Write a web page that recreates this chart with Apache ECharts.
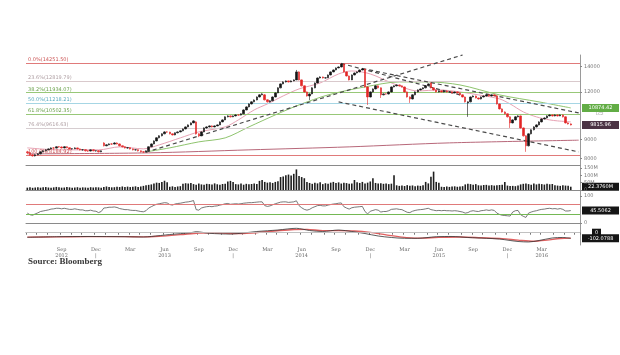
<!DOCTYPE html>
<html><head><meta charset="utf-8">
<script src="https://cdn.jsdelivr.net/npm/echarts@6/dist/echarts.min.js"></script>
<style>html,body{margin:0;padding:0;background:#fff}#c{width:620px;height:355px}</style>
</head><body><div id="c"></div>
<script>
// weekly categories, Jun 2012 - May 2016 (plus 3 empty weeks of right padding)
const startDateUTC = Date.UTC(2012, 5, 1);
const weekCount = 210;

// weekly candles [open, close, low, high]
const ohlc = [
[8338,8288,8240,8390],[8290,8190,8150,8310],[8190,8140,8100,8220],[8140,8190,8110,8220],[8190,8240,8170,8270],
[8240,8340,8220,8360],[8340,8390,8310,8420],[8390,8440,8370,8470],[8440,8490,8420,8520],[8490,8540,8470,8570],
[8540,8530,8490,8580],[8530,8600,8510,8620],[8600,8590,8550,8640],[8590,8540,8510,8620],[8540,8600,8520,8630],
[8600,8550,8520,8620],[8550,8490,8460,8570],[8490,8500,8450,8530],[8500,8540,8480,8570],[8540,8490,8460,8560],
[8490,8440,8410,8510],[8440,8450,8400,8480],[8450,8390,8360,8470],[8390,8380,8340,8420],[8380,8440,8360,8460],
[8440,8390,8370,8460],[8390,8400,8350,8420],[8400,8340,8310,8420],[8340,8390,8320,8410],[8800,8650,8620,8840],
[8650,8700,8630,8730],[8700,8750,8680,8780],[8750,8740,8700,8790],[8740,8800,8720,8840],[8800,8750,8720,8830],
[8750,8650,8620,8770],[8650,8600,8570,8670],[8600,8540,8510,8620],[8540,8550,8500,8580],[8550,8490,8460,8570],
[8490,8440,8410,8510],[8440,8450,8400,8480],[8450,8390,8360,8470],[8390,8340,8310,8410],[8340,8330,8290,8370],
[8330,8390,8310,8410],[8390,8600,8380,8620],[8600,8750,8580,8780],[8750,8910,8730,8940],[8910,9080,8890,9110],
[9080,9190,9050,9220],[9190,9300,9160,9330],[9300,9410,9280,9450],[9410,9400,9360,9450],[9400,9300,9270,9420],
[9300,9240,9210,9320],[9240,9360,9220,9380],[9360,9410,9330,9440],[9410,9470,9390,9500],[9470,9580,9450,9610],
[9580,9700,9560,9730],[9700,9820,9680,9850],[9820,9940,9800,9970],[9940,10060,9920,10100],[10000,9300,9260,10040],
[9300,9190,9120,9330],[9190,9410,9170,9440],[9410,9640,9390,9670],[9640,9700,9600,9740],[9700,9760,9670,9790],
[9760,9700,9670,9790],[9700,9760,9680,9790],[9760,9820,9740,9850],[9820,10000,9800,10030],[10000,10120,9980,10160],
[10120,10310,10100,10340],[10310,10370,10280,10410],[10370,10310,10270,10400],[10310,10370,10290,10400],[10370,10430,10340,10470],
[10430,10420,10380,10470],[10420,10500,10400,10530],[10500,10750,10480,10790],[10750,10950,10730,10990],[10950,11150,10920,11190],
[11150,11290,11120,11330],[11290,11420,11260,11460],[11420,11630,11400,11670],[11630,11780,11600,11820],[11780,11850,11750,11900],
[11780,11430,11390,11830],[11430,11290,11240,11460],[11290,11360,11250,11400],[11360,11630,11340,11670],[11630,11920,11610,11960],
[11920,12290,11900,12330],[12290,12590,12260,12630],[12590,12740,12560,12790],[12740,12820,12700,12860],[12820,12740,12700,12850],
[12740,12820,12720,12860],[12820,12900,12790,12940],[12900,13540,12880,13700],[13540,12900,12860,13580],[12900,12440,12400,12930],
[12440,11990,11950,12470],[11990,11700,11660,12020],[11700,11850,11420,11890],[11850,12290,11820,12330],[12290,12660,12260,12700],
[12660,13050,12640,13090],[13050,13130,13010,13180],[13130,13050,13010,13160],[13050,13060,13000,13100],[13060,13290,13040,13330],
[13290,13540,13260,13580],[13540,13700,13510,13740],[13700,13870,13670,13910],[13870,13950,13840,14000],[13950,14200,13920,14251],
[14200,13540,13500,14230],[13540,13210,13170,13570],[13210,12900,12860,13240],[12900,13290,12880,13330],[13290,13450,13260,13490],
[13450,13540,13420,13580],[13540,13700,13510,13740],[13700,13780,13670,13870],[13780,12360,12320,13810],[12360,11630,11080,12400],
[11630,11990,11600,12030],[11990,12210,11960,12250],[12210,12440,12180,12480],[12440,12290,12250,12470],[12290,11780,11560,12320],
[11780,11850,11750,11890],[11850,11840,11800,11890],[11840,11990,11810,12030],[11990,12360,11960,12400],[12360,12440,12330,12480],
[12440,12510,12410,12550],[12510,12440,12400,12540],[12440,12360,12320,12470],[12360,11990,11950,12390],[11990,11630,11590,12020],
[11630,11490,11220,11670],[11490,11780,11460,11820],[11780,11990,11750,12030],[11990,12140,11960,12180],[12140,12210,12110,12250],
[12210,12290,12180,12330],[12290,12440,12260,12480],[12440,12590,12410,12630],[12660,12290,12250,12700],[12290,12140,12100,12320],
[12140,11990,11950,12170],[11990,12070,11960,12100],[12070,11990,11960,12100],[11990,12060,11960,12090],[12060,11990,11950,12090],
[11990,12000,11950,12040],[12000,11920,11880,12030],[11920,11990,11890,12020],[11990,11920,11890,12020],[11920,11780,11740,11950],
[11780,11630,11600,11810],[11630,11290,11250,11660],[11220,11290,10310,11320],[11290,11630,11260,11670],[11630,11700,11600,11740],
[11700,11560,11530,11730],[11560,11490,11450,11590],[11490,11630,11460,11670],[11630,11700,11600,11740],[11700,11780,11670,11820],
[11780,11700,11670,11810],[11700,11780,11670,11810],[11780,11710,11680,11810],[11710,11150,11110,11740],[11150,10820,10780,11180],
[10820,10620,10580,10850],[10620,10500,10460,10660],[10500,10310,10270,10530],[10310,9940,9640,10340],[9940,10120,9910,10160],
[10120,10310,10090,10350],[10310,10370,10280,10410],[10370,9640,9600,10400],[9640,9190,9150,9670],[9190,8650,8340,9220],
[8650,9300,8620,9330],[9300,9530,9270,9560],[9530,9700,9500,9740],[9700,9820,9670,9860],[9820,10000,9790,10040],
[10000,10180,9970,10220],[10180,10240,10150,10280],[10240,10370,10210,10410],[10370,10430,10340,10470],[10430,10370,10330,10460],
[10370,10430,10340,10470],[10430,10370,10330,10460],[10370,10430,10350,10460],[10430,10310,10270,10460],[10310,9940,9900,10340],
[9940,9880,9840,9970],[9880,9815.96,9790,9910]
];

// weekly volume, millions
const volume = [
16,18,15,17,19,16,18,20,17,15,18,21,19,16,17,20,18,15,17,19,16,18,17,15,19,
17,19,18,16,21,24,20,18,19,
22,20,24,21,23,20,22,25,21,24,
28,32,35,38,
45,50,48,55,63,52,
22,25,20,24,26,
42,46,44,48,
40,36,44,38,35,42,40,37,45,39,36,41,43,
58,62,55,
40,38,44,36,42,39,41,45,40,
62,68,55,
50,53,48,55,60,
88,92,100,105,98,
110,140,
95,88,80,
55,48,42,50,45,52,40,46,43,50,55,48,52,44,50,47,42,45,
68,
52,48,55,45,50,58,
80,
48,44,46,42,45,40,43,
100,
32,28,30,27,33,29,31,26,30,28,32,
55,45,90,125,
55,50,
22,20,24,21,23,25,22,24,26,
38,42,40,36,40,
32,30,34,35,31,33,30,32,34,36,
55,
30,27,28,26,30,
38,42,45,40,36,44,38,42,40,37,43,39,41,
32,30,28,33,30,29,22.376
];

// weekly RSI
const rsi = [
36,30,28,33,37,42,44,46,48,51,52,54,54,52,54,52,50,50,52,50,
48,48,45,45,47,44,43,38,42,55,56,58,58,59,57,53,51,49,49,47,
46,46,44,42,41,45,55,60,65,69,71,73,75,74,68,66,70,72,73,75,
77,78,80,83,49,47,55,58,60,61,60,62,63,66,68,71,72,69,70,71,
70,71,73,74,75,75,76,77,78,78,64,61,63,67,71,74,77,78,78,76,
77,78,82,64,56,50,47,50,56,60,64,65,63,63,66,68,70,71,73,74,
60,55,51,56,58,59,60,61,42,33,43,46,49,47,40,42,42,45,50,51,
52,50,49,44,39,38,43,46,48,49,50,52,54,49,47,45,46,45,46,45,
45,44,45,44,42,40,36,38,43,45,43,42,45,46,48,46,48,46,36,31,
28,27,26,25,40,45,46,30,24,20,36,40,43,45,48,50,51,53,54,52,
53,51,53,50,44,44,45.5062
];

// moving averages read at sparse weeks [weekIndex, value]
const maShortPts = [[0,8543],[12,8440],[27,8440],[35,8595],[44,8491],[50,8699],[58,9076],[65,9411],[75,9701],[80,10121],[86,10753],[91,11151],[97,11705],[103,12212],[111,12664],[118,13373],[123,13618],[130,13373],[139,12587],[148,12065],[156,12138],[164,11992],[171,11776],[179,11494],[183,11151],[188,10624],[193,10307],[198,10121],[201,10060],[206,9999]];
const maLongPts = [[45,8338],[54,8543],[65,8859],[75,9076],[84,9700],[94,10432],[103,11084],[114,11776],[128,12361],[141,12741],[152,12741],[164,12511],[179,11776],[194,11287],[206,10884]];
const maVeryLongPts = [[0,8238],[46,8288],[84,8440],[122,8595],[160,8805],[209,8950]];

// MACD and signal read at sparse weeks
const macdPts = [[0,-84],[11,-73],[23,-69],[37,-73],[44,-78],[47,-69],[54,-33],[62,0],[64,18],[69,-11],[77,-24],[82,-5],[87,22],[95,49],[102,80],[107,40],[112,22],[118,49],[123,22],[128,-15],[133,-60],[138,-87],[143,-102],[148,-102],[155,-73],[161,-69],[167,-87],[174,-102],[179,-115],[183,-142],[186,-160],[190,-169],[194,-142],[199,-96],[203,-87],[206,-102.0788]];
const signalPts = [[0,-80],[11,-76],[23,-71],[37,-72],[44,-76],[50,-65],[58,-35],[65,-5],[70,0],[78,-15],[85,-5],[92,25],[100,55],[106,60],[112,38],[118,38],[124,32],[130,5],[136,-40],[142,-80],[148,-98],[156,-85],[164,-78],[172,-92],[180,-108],[186,-135],[192,-155],[197,-135],[202,-105],[206,-98]];

// Fibonacci retracement levels
const fibNames = ['0.0%','23.6%','38.2%','50.0%','61.8%','76.4%','100.0%'];
const fibValues = [14251.50,12819.79,11934.07,11218.21,10502.35,9616.63,8184.92];
const fibColors = ['#e07a7a','#d9c9cc','#98c878','#a6d6e4','#98c878','#d6cdd0','#e07a7a'];

// trend lines [[weekIndex, price],[weekIndex, price]]
const trendLines = [[[45,8320],[165,15000]],[[119,14251],[164,11776]],[[127,13822],[209,10559]],[[118,11287],[209,8338]]];

// x tick labels (month start -> label)
const xTickLabels = [['2012-09','Sep\n2012'],['2012-12','Dec\n|'],['2013-03','Mar'],['2013-06','Jun\n2013'],['2013-09','Sep'],['2013-12','Dec\n|'],['2014-03','Mar'],['2014-06','Jun\n2014'],['2014-09','Sep'],['2014-12','Dec\n|'],['2015-03','Mar'],['2015-06','Jun\n2015'],['2015-09','Sep'],['2015-12','Dec\n|'],['2016-03','Mar\n2016']];

const priceTicks = [8000,9000,12000,14000];
const volTicks = [0,50,100,150];
const rsiTicks = [0,100];
const lastLongMA = 10874.42;

// ---- build
const DAY = 86400000;
const dates = [];
const monthStartIdx = {}; // 'YYYY-MM' -> week index
for (let k = 0; k < weekCount; k++) {
  const t = startDateUTC + 7 * k * DAY;
  const d = new Date(t);
  dates.push(d.toISOString().slice(0, 10));
  for (let j = 0; j < 7; j++) {
    const dj = new Date(t + j * DAY);
    if (dj.getUTCDate() === 1) {
      monthStartIdx[dj.toISOString().slice(0, 7)] = k;
    }
  }
}
const labelAt = {};
xTickLabels.forEach(([m, l]) => { if (monthStartIdx[m] !== undefined) labelAt[monthStartIdx[m]] = l; });
const tickAt = {};
Object.values(monthStartIdx).forEach(k => tickAt[k] = true);

function sparse(pts) {
  const arr = new Array(weekCount).fill(null);
  pts.forEach(([i, v]) => arr[i] = v);
  return arr;
}

const FS = 5;
const sepLine = { show: true, lineStyle: { color: '#8a8a8a', width: 1 } };
const grids = [
  { left: 26, right: 40, top: 55, height: 110 },
  { left: 26, right: 40, top: 165, height: 27.5 },
  { left: 26, right: 40, top: 192.5, height: 34 },
  { left: 26, right: 40, top: 226.5, height: 18.5 }
];
const xAxes = grids.map((g, gi) => ({
  type: 'category', gridIndex: gi, data: dates, boundaryGap: true,
  axisLine: sepLine,
  axisTick: gi === 3 ? { show: true, interval: (i) => !!tickAt[i], length: 2, lineStyle: { color: '#777' } } : { show: false },
  axisLabel: gi === 3 ? {
    show: true, interval: (i) => labelAt[i] !== undefined,
    formatter: (v, i) => labelAt[i] || '', fontSize: FS, lineHeight: 6, color: '#666', margin: 2,
    fontFamily: 'DejaVu Serif'
  } : { show: false },
  splitLine: { show: false }
}));
const axisRight = { show: true, lineStyle: { color: '#9a9a9a', width: 1 } };
const yLabel = { fontSize: FS, color: '#777', margin: 4, fontFamily: 'DejaVu Sans' };
const yAxes = [
  { type: 'log', gridIndex: 0, position: 'right', min: 7700, max: 15000, logBase: 10,
    axisLine: axisRight, splitLine: { show: false },
    axisTick: { show: true, customValues: priceTicks, length: 2, lineStyle: { color: '#888' } },
    axisLabel: Object.assign({ customValues: priceTicks, formatter: v => String(Math.round(v)) }, yLabel) },
  { type: 'value', gridIndex: 1, position: 'right', min: -17, max: 170,
    axisLine: axisRight, splitLine: { show: false },
    axisTick: { show: true, customValues: volTicks, length: 2, lineStyle: { color: '#888' } },
    axisLabel: Object.assign({ customValues: volTicks, formatter: v => v === 0 ? '0' : v + 'M' }, yLabel) },
  { type: 'value', gridIndex: 2, position: 'right', min: -14, max: 113,
    axisLine: axisRight, splitLine: { show: false },
    axisTick: { show: true, customValues: rsiTicks, length: 2, lineStyle: { color: '#888' } },
    axisLabel: Object.assign({ customValues: rsiTicks }, yLabel) },
  { type: 'value', gridIndex: 3, position: 'right', min: -224, max: 113,
    axisLine: axisRight, splitLine: { show: false },
    axisTick: { show: false }, axisLabel: { show: false } }
];

const fibMarks = fibValues.map((v, i) => ({
  yAxis: v,
  lineStyle: { color: fibColors[i], width: 1, type: 'solid' },
  label: { show: true, position: 'insideStartTop', distance: [2, 1], formatter: fibNames[i] + '(' + v.toFixed(2) + ')',
    color: i === 0 || i === 6 ? '#cc5555' : (i === 2 || i === 4 ? '#6aa04a' : (i === 3 ? '#5aaac0' : '#b0a0a4')),
    fontSize: FS, fontFamily: 'DejaVu Sans' }
}));
const trendMarks = trendLines.map(([a, b]) => [
  { coord: [dates[a[0]], a[1]], lineStyle: { color: '#4a4a4a', width: 1.2, type: [4, 3] } },
  { coord: [dates[b[0]], b[1]] }
]);

const option = {
  animation: false,
  backgroundColor: '#fff',
  grid: grids,
  xAxis: xAxes,
  yAxis: yAxes,
  series: [
    { type: 'candlestick', xAxisIndex: 0, yAxisIndex: 0, data: ohlc, barMaxWidth: 2, barWidth: 2,
      itemStyle: { color: '#151515', color0: '#e32626', borderColor: '#151515', borderColor0: '#e32626', borderWidth: 0.6 },
      markLine: { silent: true, symbol: ['none', 'none'], animation: false, data: fibMarks }, z: 5 },
    { type: 'line', xAxisIndex: 0, yAxisIndex: 0, data: sparse(maShortPts), connectNulls: true, smooth: 0.3,
      showSymbol: false, lineStyle: { color: '#e7a2b4', width: 1 }, z: 3,
      markLine: { silent: true, symbol: ['none', 'none'], animation: false, data: trendMarks, label: { show: false } } },
    { type: 'line', xAxisIndex: 0, yAxisIndex: 0, data: sparse(maLongPts), connectNulls: true, smooth: 0.3,
      showSymbol: false, lineStyle: { color: '#8fc46e', width: 1 }, z: 3 },
    { type: 'line', xAxisIndex: 0, yAxisIndex: 0, data: sparse(maVeryLongPts), connectNulls: true, smooth: 0.3,
      showSymbol: false, lineStyle: { color: '#b8687a', width: 1 }, z: 3 },
    { type: 'bar', xAxisIndex: 1, yAxisIndex: 1, data: volume, barWidth: 1.6, itemStyle: { color: '#1e1e1e' } },
    { type: 'line', xAxisIndex: 2, yAxisIndex: 2, data: rsi, showSymbol: false, lineStyle: { color: '#555', width: 0.8 },
      markLine: { silent: true, symbol: ['none', 'none'], animation: false, label: { show: false },
        data: [{ yAxis: 70, lineStyle: { color: '#e07a7a', width: 1, type: 'solid' } }, { yAxis: 30, lineStyle: { color: '#74b854', width: 1, type: 'solid' } }] } },
    { type: 'line', xAxisIndex: 3, yAxisIndex: 3, data: sparse(signalPts), connectNulls: true, smooth: 0.3, showSymbol: false,
      lineStyle: { color: '#e06060', width: 1.4 } },
    { type: 'line', xAxisIndex: 3, yAxisIndex: 3, data: sparse(macdPts), connectNulls: true, smooth: 0.3, showSymbol: false,
      lineStyle: { color: '#333', width: 0.8 },
      markLine: { silent: true, symbol: ['none', 'none'], animation: false, label: { show: false },
        data: [{ yAxis: 0, lineStyle: { color: '#cfcfcf', width: 0.8, type: 'solid' } }] } }
  ]
};
const chart = echarts.init(document.getElementById('c'), null, { renderer: 'canvas' });
chart.setOption(option);

function tag(y, text, bg, w, x) {
  x = x || 582;
  return { type: 'group', children: [
    { type: 'rect', shape: { x: x, y: y - 4, width: w, height: 8 }, style: { fill: bg } },
    { type: 'text', style: { x: x + w / 2, y: y, text: text, fill: '#fff', font: '5px "DejaVu Sans"', align: 'center', verticalAlign: 'middle' } }
  ] };
}
const lastClose = ohlc[ohlc.length - 1][1];
const g = [];
g.push(tag(chart.convertToPixel({ yAxisIndex: 0 }, lastLongMA), lastLongMA.toFixed(2), '#62ad45', 37));
g.push(tag(chart.convertToPixel({ yAxisIndex: 0 }, lastClose), lastClose.toFixed(2), '#4b3344', 37));
g.push(tag(chart.convertToPixel({ yAxisIndex: 1 }, volume[volume.length - 1]), volume[volume.length - 1].toFixed(4) + 'M', '#151515', 37));
g.push(tag(chart.convertToPixel({ yAxisIndex: 2 }, rsi[rsi.length - 1]), rsi[rsi.length - 1].toFixed(4), '#151515', 37));
g.push(tag(chart.convertToPixel({ yAxisIndex: 3 }, 0), '0', '#151515', 9, 592));
g.push(tag(chart.convertToPixel({ yAxisIndex: 3 }, macdPts[macdPts.length - 1][1]), macdPts[macdPts.length - 1][1].toFixed(4), '#151515', 37));
g.push({ type: 'text', style: { x: 596, y: chart.convertToPixel({ yAxisIndex: 0 }, fibValues[4]), text: 'LC2', fill: '#999', font: '4px "DejaVu Sans"', verticalAlign: 'middle' } });
g.push({ type: 'text', style: { x: 28, y: 262, text: 'Source: Bloomberg', fill: '#3a3a3a', font: 'bold 9px "Liberation Serif"', verticalAlign: 'middle' } });
chart.setOption({ graphic: g });
</script>
</body></html>
